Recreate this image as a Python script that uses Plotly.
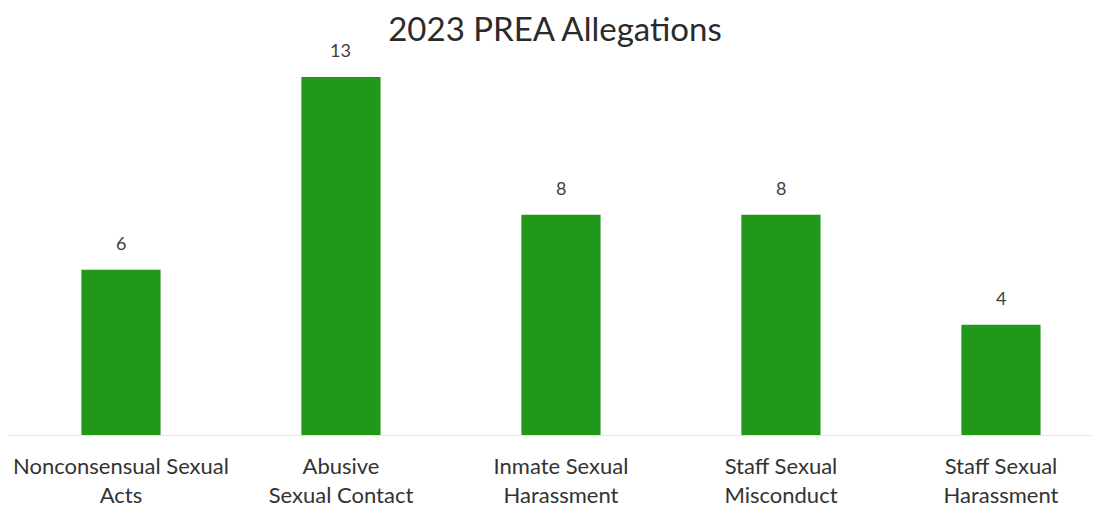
import plotly.graph_objects as go

categories = ["Nonconsensual Sexual<br>Acts", "Abusive<br>Sexual Contact", "Inmate Sexual<br>Harassment",
              "Staff Sexual<br>Misconduct", "Staff Sexual<br>Harassment"]
values = [6, 13, 8, 8, 4]
title_text = "2023 PREA Allegations"

FONT = "Lato, Open Sans, sans-serif"
xs = list(range(len(categories)))

fig = go.Figure(go.Bar(
    x=xs, y=values,
    marker=dict(color="#22981B", line=dict(width=0)),
    width=0.36,
    cliponaxis=False,
))

for x, v in zip(xs, values):
    fig.add_annotation(x=x, y=v, text=str(v), showarrow=False, yanchor="middle", yshift=27,
                       font=dict(family=FONT, size=18, color="#404040"))

fig.update_layout(
    width=1099, height=510,
    margin=dict(l=0, r=0, t=32, b=83, autoexpand=False),
    paper_bgcolor="white", plot_bgcolor="white",
    title=dict(text=title_text, x=0.4977, xanchor="center", y=0.957, yanchor="middle",
               font=dict(family=FONT, size=33, color="#2b2b2b"), automargin=False),
    showlegend=False,
    font=dict(family=FONT),
)
fig.update_xaxes(
    range=[-0.5136, 4.482], automargin=False,
    tickmode="array", tickvals=xs, ticktext=categories,
    tickfont=dict(size=22, color="#333333"), ticklabelstandoff=12,
    showgrid=False, zeroline=False, showline=True, linecolor="#e3e3e3", linewidth=1,
    ticks="", ticklen=0,
)
fig.update_yaxes(range=[0, 14.34], visible=False, showgrid=False, zeroline=False, automargin=False)

fig.write_html("out.html")
